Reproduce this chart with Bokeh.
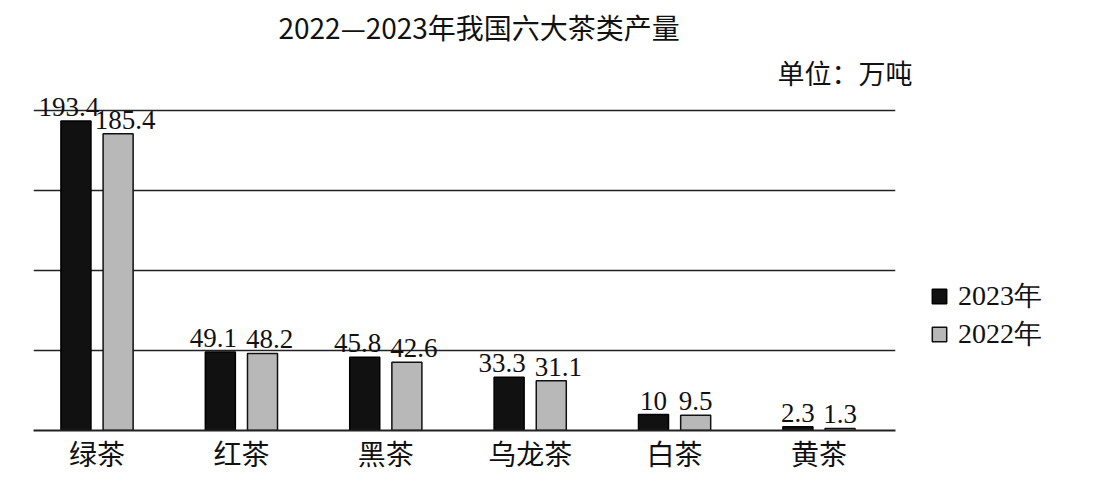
import numpy as np
from bokeh.plotting import figure
from bokeh.models import ColumnDataSource, FixedTicker, Legend, LegendItem, Title, Range1d
from bokeh.transform import dodge
from bokeh.core.properties import value
from bokeh.embed import file_html
from bokeh.resources import INLINE

categories = ["绿茶", "红茶", "黑茶", "乌龙茶", "白茶", "黄茶"]
values_2023 = [193.4, 49.1, 45.8, 33.3, 10, 2.3]
values_2022 = [185.4, 48.2, 42.6, 31.1, 9.5, 1.3]
labels_2023 = ["193.4", "49.1", "45.8", "33.3", "10", "2.3"]
labels_2022 = ["185.4", "48.2", "42.6", "31.1", "9.5", "1.3"]
y_ticks = [0, 50, 100, 150, 200]

title_text = "2022—2023年我国六大茶类产量"
unit_text = "单位：万吨"

xs = list(range(len(categories)))
src = ColumnDataSource(dict(
    x=xs, y23=values_2023, y22=values_2022, t23=labels_2023, t22=labels_2022,
    o23=[-7 if len(s) >= 4 else 0 for s in labels_2023],
    o22=[7 if len(s) >= 4 else 0 for s in labels_2022],
))

p = figure(frame_width=862, frame_height=338, output_backend="svg", toolbar_location=None,
           x_range=Range1d(-0.44, 5.53), y_range=Range1d(0, 211.25),
           min_border_left=33, min_border_right=185, min_border_top=92, min_border_bottom=45,
           title=title_text)
p.title.text_font = "Noto Sans CJK SC"
p.title.text_font_size = "28px"
p.title.text_font_style = "normal"
p.title.align = "left"
p.title.offset = 245
p.title.standoff = 6
p.title.text_color = "#111111"

unit = Title(text=unit_text, align="right", offset=-17, standoff=2,
             text_font="Noto Sans CJK SC", text_font_size="27px", text_font_style="normal",
             text_color="#111111")
p.add_layout(unit, "above")

p.outline_line_color = None
p.background_fill_color = "white"
p.border_fill_color = "white"

p.xgrid.visible = False
p.yaxis.visible = False
p.yaxis.ticker = FixedTicker(ticks=y_ticks)
p.ygrid.ticker = FixedTicker(ticks=y_ticks)
p.ygrid.grid_line_color = "#222222"
p.ygrid.grid_line_width = 1.4

p.xaxis.ticker = FixedTicker(ticks=xs)
p.xaxis.major_label_overrides = {i: c for i, c in enumerate(categories)}
p.xaxis.axis_line_color = "#222222"
p.xaxis.axis_line_width = 2
p.xaxis.major_tick_line_color = None
p.xaxis.minor_tick_line_color = None
p.xaxis.major_label_text_font = "Noto Sans CJK SC"
p.xaxis.major_label_text_font_size = "28px"
p.xaxis.major_label_text_color = "#111111"
p.xaxis.major_label_standoff = -4

bw = 0.208
r23 = p.vbar(x=dodge("x", -0.146, range=p.x_range), top="y23", width=bw, source=src,
             fill_color="#111111", line_color="#000000", line_width=1.5)
r22 = p.vbar(x=dodge("x", 0.146, range=p.x_range), top="y22", width=bw, source=src,
             fill_color="#b8b8b8", line_color="#111111", line_width=1.5)

common = dict(text_font=value("Liberation Serif"), text_font_size="27px", text_align="center",
              text_baseline="alphabetic", text_color="#111111", y_offset=-14, source=src)
p.text(x=dodge("x", -0.146, range=p.x_range), y="y23", text="t23", x_offset="o23", **common)
p.text(x=dodge("x", 0.146, range=p.x_range), y="y22", text="t22", x_offset="o22", **common)

legend = Legend(items=[LegendItem(label="2023年", renderers=[r23]),
                       LegendItem(label="2022年", renderers=[r22])],
                location=(35, 77), padding=0, margin=0, border_line_color=None,
                background_fill_alpha=0, glyph_width=18, glyph_height=18, label_height=30,
                spacing=-1, label_standoff=10, label_text_font="Liberation Serif",
                label_text_font_size="28px", label_text_color="#111111")
p.add_layout(legend, "right")

open("out.html", "w").write(file_html(p, INLINE))
